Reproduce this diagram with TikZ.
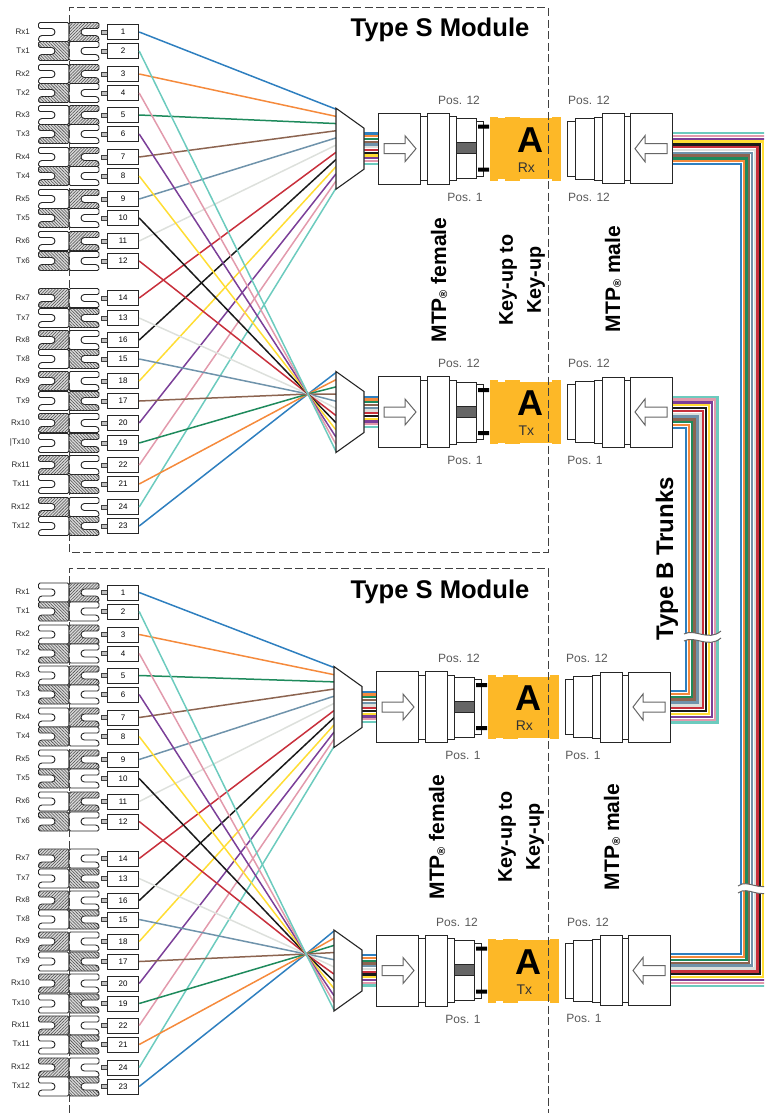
\documentclass[tikz,border=0pt]{standalone}
\usepackage{fontspec}
\setmainfont{Liberation Sans}
\usetikzlibrary{patterns.meta}
\definecolor{fibblue}{HTML}{2E7FBF}
\definecolor{fiborange}{HTML}{F58A3C}
\definecolor{fibgreen}{HTML}{1E8A5C}
\definecolor{fibbrown}{HTML}{8C6450}
\definecolor{fibslate}{HTML}{6F93AB}
\definecolor{fibwhite}{HTML}{DDE0DC}
\definecolor{fibred}{HTML}{C8303C}
\definecolor{fibblack}{HTML}{1A1A1A}
\definecolor{fibyellow}{HTML}{FFDD33}
\definecolor{fibviolet}{HTML}{7B3F98}
\definecolor{fibrose}{HTML}{E29AAC}
\definecolor{fibaqua}{HTML}{6CCBBE}
\definecolor{adaptercol}{HTML}{FDB827}
\newcommand{\fsz}[1]{\fontsize{#1}{#1}\selectfont}
\newcommand{\regmark}{{\fsz{11}\raisebox{-1pt}{®}}}
\newcommand{\fiberorder}{1/fibblue,2/fiborange,3/fibgreen,4/fibbrown,5/fibslate,6/fibwhite,7/fibred,8/fibblack,9/fibyellow,10/fibviolet,11/fibrose,12/fibaqua}

% twelve landing points on the wide side of a fan-out
\newcommand{\muxpoints}[3]{
  \foreach \i in {1,...,12}
    \coordinate (#1-\i) at (#2,{#3-39.5+(\i-1)*7.18});
}

% port rows with their fibers: tag, y shift, mark before Tx10, mux of Rx, mux of Tx, crossing point
\newcommand{\typemodule}[6]{
  \begin{scope}[shift={(0,#2)}]
    \foreach \num/\lab/\ry/\ls/\rs in {
      1/Rx1/32/plainhalf/hatchne,2/Tx1/51/hatchnw/plainhalf,
      3/Rx2/74/plainhalf/hatchne,4/Tx2/93/hatchnw/plainhalf,
      5/Rx3/115/plainhalf/hatchne,6/Tx3/134/hatchnw/plainhalf,
      7/Rx4/157/plainhalf/hatchne,8/Tx4/176/hatchnw/plainhalf,
      9/Rx5/199/plainhalf/hatchne,10/Tx5/218/hatchnw/plainhalf,
      11/Rx6/241/plainhalf/hatchne,12/Tx6/261/hatchnw/plainhalf,
      14/Rx7/298/hatchne/plainhalf,13/Tx7/318/plainhalf/hatchnw,
      16/Rx8/340/hatchne/plainhalf,15/Tx8/359/plainhalf/hatchnw,
      18/Rx9/381/hatchne/plainhalf,17/Tx9/401/plainhalf/hatchnw,
      20/Rx10/423/hatchne/plainhalf,19/#3Tx10/443/plainhalf/hatchnw,
      22/Rx11/465/hatchne/plainhalf,21/Tx11/484/plainhalf/hatchnw,
      24/Rx12/507/hatchne/plainhalf,23/Tx12/526/plainhalf/hatchnw} {
      \draw[\ls,rounded corners=1.5pt] (69,\ry-9.5) -- (38.5,\ry-9.5) -- (38.5,\ry-3.5)
        [rounded corners=3.4pt] -- (55,\ry-3.5) -- (55,\ry+3.5) -- (38.5,\ry+3.5)
        [rounded corners=1.5pt] -- (38.5,\ry+9.5) -- (69,\ry+9.5) -- cycle;
      \draw[\rs,rounded corners=1.5pt] (69,\ry-9.5) -- (99,\ry-9.5) -- (99,\ry-3.5)
        [rounded corners=3.4pt] -- (81,\ry-3.5) -- (81,\ry+3.5) -- (99,\ry+3.5)
        [rounded corners=1.5pt] -- (99,\ry+9.5) -- (69,\ry+9.5) -- cycle;
      \draw[stubpin] (101.5,\ry-2) rectangle (107.3,\ry+2);
      \node[portbox] (#1-\num) at (123,\ry) {\num};
      \node[portlabel] (#1-lab-\num) at (30,\ry-0.5) {\lab};
    }
  \end{scope}
  \foreach \n/\c [count=\i] in {1/fibblue,3/fiborange,5/fibgreen,7/fibbrown,9/fibslate,11/fibwhite,
      14/fibred,16/fibblack,18/fibyellow,20/fibviolet,22/fibrose,24/fibaqua}
    \draw[fiber=\c] (#1-\n.east) -- (#4-\i);
  \foreach \n/\c [count=\i] in {23/fibblue,21/fiborange,19/fibgreen,17/fibbrown,15/fibslate,13/fibwhite,
      12/fibred,10/fibblack,8/fibyellow,6/fibviolet,4/fibrose,2/fibaqua}
    \draw[fiber=\c] (#1-\n.east) -- (#6) -- (#5-\i);
}

% fan-out, ribbon stub, female part, adapter, male part: tag, dx, centre y, Rx or Tx
\newcommand{\connset}[4]{
  \begin{scope}[shift={(#2,#3)}]
    \foreach \i/\c in \fiberorder
      \draw[ribbon=\c] (362,{-15.2+(\i-1)*2.75}) -- (378,{-15.2+(\i-1)*2.75});
    \draw[muxbody] (336,-40.5) -- (364,-20.5) -- (364,20.5) -- (336,40.5) -- cycle;
    % female part
    \foreach \xa/\xb/\ha in {378/420.7/35.5,420.7/427.3/32,427.3/449/35.5,449/456.5/32,456.5/476.5/30,476.5/483.5/27.5}
      \draw[connbody] (\xa,-\ha) rectangle (\xb,\ha);
    \draw[connbody,fill=black!60] (456.5,-6) rectangle (476.5,5);
    \fill[black] (478,-24) rectangle (489,-20) (478,19) rectangle (489,23);
    \draw[arrowbody] (384,-5) -- (405,-5) -- (405,-13) -- (416,0) -- (405,13) -- (405,5) -- (384,5) -- cycle;
    % adapter
    \fill[adaptercol] (490,-30.5) rectangle (561,30.5);
    \foreach \xa/\xb in {490/498,505/520,552/561}
      \fill[adaptercol] (\xa,-32) rectangle (\xb,32);
    \node[letterbig] (letter#1) at (530,-8.5) {A};
    \node[rolelabel] (role#1) at (526.3,19) {#4};
    % male part
    \foreach \xa/\xb/\ha in {567.7/575/27.5,575/594/30.5,594/602.7/31.5,602.7/624/35,624/630/32,630/672.7/35}
      \draw[connbody] (\xa,-\ha) rectangle (\xb,\ha);
    \draw[arrowbody] (667,-5) -- (645,-5) -- (645,-13) -- (635,0) -- (645,13) -- (645,5) -- (667,5) -- cycle;
  \end{scope}
}

\begin{document}
\begin{tikzpicture}[x=1pt,y=-1pt,
  fiber/.style={line width=1.5pt,draw=#1,line join=round},
  ribbon/.style={line width=2.3pt,draw=#1},
  plainhalf/.style={draw=black!85,line width=.9pt,fill=white},
  hatchne/.style={draw=black!85,line width=.9pt,fill=black!15,
    postaction={pattern={Lines[angle=45,distance=2.2pt,line width=.55pt]},pattern color=black!70}},
  hatchnw/.style={draw=black!85,line width=.9pt,fill=black!15,
    postaction={pattern={Lines[angle=-45,distance=2.2pt,line width=.55pt]},pattern color=black!70}},
  stubpin/.style={draw=black!75,line width=.7pt,fill=black!25},
  portbox/.style={draw=black!85,line width=.9pt,fill=white,minimum width=31.5pt,minimum height=15pt,inner sep=0pt,font=\fsz{8}},
  portlabel/.style={anchor=east,inner sep=0pt,text=black!85,font=\fsz{8}},
  muxbody/.style={draw=black!85,line width=1.1pt,fill=white},
  connbody/.style={draw=black!85,line width=.9pt,fill=white},
  arrowbody/.style={draw=black!60,line width=1pt,fill=white},
  letterbig/.style={inner sep=0pt,font=\fsz{36}\bfseries},
  rolelabel/.style={inner sep=0pt,text=black!80,font=\fsz{14}},
  poslabel/.style={inner sep=0pt,text=black!65,font=\fsz{12}},
  titlelabel/.style={inner sep=0pt,font=\fsz{25.6}\bfseries},
  sidelabel/.style={inner sep=0pt,rotate=90,font=\fsz{21}\bfseries},
  keylabel/.style={inner sep=0pt,rotate=90,align=center,font=\fontsize{19.8}{28}\selectfont\bfseries},
  framedash/.style={draw=black!75,line width=1pt,dash pattern=on 8pt off 3.5pt},
  trunkbreak/.style={draw=black!60,line width=1pt}]
  \path[use as bounding box,clip] (0,0) rectangle (764,1113);

  \muxpoints{muxA}{336}{148.7}
  \muxpoints{muxB}{336}{412}
  \muxpoints{muxC}{334}{707}
  \muxpoints{muxD}{334}{970.5}
  \coordinate (crossB) at (308,394);
  \coordinate (crossD) at (306,954);

  \typemodule{top}{0}{|}{muxA}{muxB}{crossB}
  \typemodule{low}{560.5}{}{muxC}{muxD}{crossD}

  % trunks
  \foreach \i/\c in \fiberorder {
    \coordinate (maleA-\i) at (672,{164-(\i-1)*2.8});
    \coordinate (maleD-\i) at (670,{954+(\i-1)*2.9});
    \coordinate (maleB-\i) at (672,{428-(\i-1)*2.85});
    \coordinate (maleC-\i) at (670,{691+(\i-1)*2.87});
    \pgfmathsetmacro{\xouter}{741+(\i-1)*2.75}
    \pgfmathsetmacro{\youter}{954+(\i-1)*2.9}
    \pgfmathsetmacro{\xinner}{686+(\i-1)*2.87}
    \pgfmathsetmacro{\yinner}{691+(\i-1)*2.87}
    \draw[ribbon=\c] (maleA-\i) -| (\xouter,\youter) -- (maleD-\i);
    \draw[ribbon=\c] (maleB-\i) -| (\xinner,\yinner) -- (maleC-\i);
  }
  \fill[white] (684,634) .. controls (695,628) and (708,642) .. (721,631)
    -- (721,638) .. controls (708,649) and (695,635) .. (684,641) -- cycle;
  \draw[trunkbreak] (684,634) .. controls (695,628) and (708,642) .. (721,631);
  \draw[trunkbreak] (684,641) .. controls (695,635) and (708,649) .. (721,638);
  \fill[white] (738,886) .. controls (748,878) and (760,894) .. (775,882)
    -- (775,889) .. controls (760,901) and (748,885) .. (738,893) -- cycle;
  \draw[trunkbreak] (738,886) .. controls (748,878) and (760,894) .. (775,882);
  \draw[trunkbreak] (738,893) .. controls (748,885) and (760,901) .. (775,889);

  \connset{A}{0}{148.7}{Rx}
  \connset{B}{0}{412}{Tx}
  \connset{C}{-2}{707}{Rx}
  \connset{D}{-2}{970.5}{Tx}

  % module frames
  \draw[framedash] (69,552) -- (69,8) -- (548,8) -- (548,552) -- cycle;
  \draw[framedash] (69,1113) -- (69,568.5) -- (548,568.5) -- (548,1113);

  \node[titlelabel] (titleS1) at (440,30) {Type S Module};
  \node[titlelabel] (titleS2) at (440,592) {Type S Module};

  \foreach \i/\x/\y/\t in {a1/459/100/12,a2/465/197/1,a3/589/100/12,a4/589/197/12,
    b1/459/363/12,b2/465/460/1,b3/589/363/12,b4/585/460/1,
    c1/459/658/12,c2/463/755/1,c3/587/658/12,c4/583/755/1,
    d1/457/922/12,d2/463/1019/1,d3/588/922/12,d4/584/1018/1}
    \node[poslabel] (pos-\i) at (\x,\y) {Pos. \t};

  \node[sidelabel] (female1) at (439,280) {MTP\regmark{} female};
  \node[keylabel] (key1) at (522,280) {Key-up to\\Key-up};
  \node[sidelabel] (male1) at (613,279) {MTP\regmark{} male};
  \node[sidelabel] (female2) at (437,837) {MTP\regmark{} female};
  \node[keylabel] (key2) at (521,837) {Key-up to\\Key-up};
  \node[sidelabel] (male2) at (612,837) {MTP\regmark{} male};
  \node[inner sep=0pt,rotate=90,font=\fsz{24}\bfseries] (trunks) at (667,559) {Type B Trunks};
\end{tikzpicture}
\end{document}
